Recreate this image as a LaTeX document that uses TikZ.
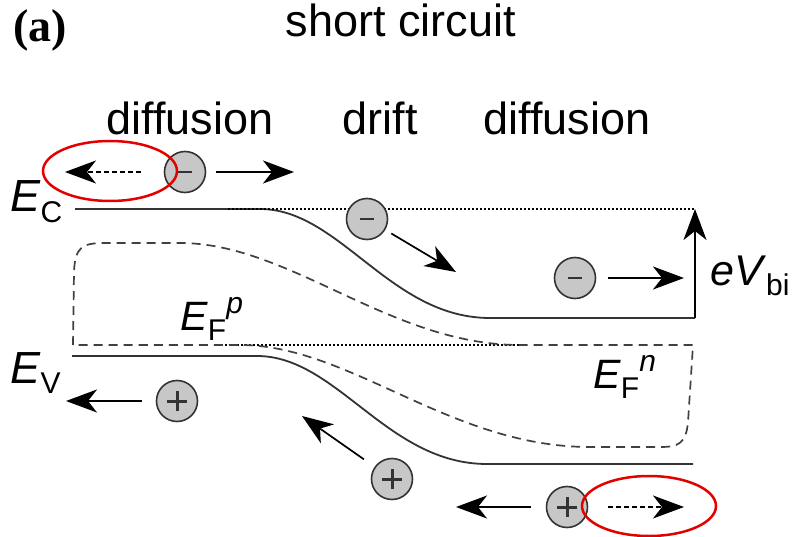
\documentclass[tikz,border=0pt]{standalone}
\usepackage{fontspec}
\setmainfont{Liberation Sans}
\newfontfamily\serifbold{Liberation Serif}
\usetikzlibrary{arrows.meta}

\newcommand{\lowtxt}[1]{\raisebox{-10pt}{\fontsize{30}{30}\selectfont #1}}
\newcommand{\hightxt}[1]{\raisebox{17pt}{\fontsize{30}{30}\selectfont\itshape #1}}

\begin{document}
\begin{tikzpicture}[
  x=1pt, y=-1pt,
  band/.style={line width=1.8pt, black!80},
  qfl/.style={line width=1.7pt, black!75, dash pattern=on 9pt off 6pt},
  refline/.style={line width=1.2pt, black, dash pattern=on 1.5pt off 2.5pt},
  carrier/.style={
    circle,
    draw=black!80,
    line width=1.6pt,
    fill=black!22,
    minimum size=41pt,
    inner sep=0pt
  },
  elec/.style={carrier, path picture={
    \draw[line width=1.8pt] ([xshift=-7pt]path picture bounding box.center)
      -- ([xshift=7pt]path picture bounding box.center);}},
  hole/.style={carrier, path picture={
    \draw[line width=3pt] ([xshift=-10pt]path picture bounding box.center)
      -- ([xshift=10pt]path picture bounding box.center)
      ([yshift=-10pt]path picture bounding box.center)
      -- ([yshift=10pt]path picture bounding box.center);}},
  carry/.style={-{Stealth[length=31pt, width=23pt, inset=9pt]}, line width=1.7pt},
  carrydash/.style={carry, dash pattern=on 5pt off 3pt},
  ring/.style={red!90!black, line width=2.5pt},
  heading/.style={font=\fontsize{45}{54}\selectfont, inner sep=0pt, anchor=base},
  lvltext/.style={font=\fontsize{45}{52}\selectfont, inner sep=0pt, anchor=base west}
]

  \useasboundingbox (0,0) rectangle (794,537);

  % Band edges, bent across the junction.
  \draw[band] (75,209) -- (260,209) .. controls (340,209) and (390,318) .. (490,318) -- (695,318);
  \draw[band] (72,356) -- (257,356) .. controls (337,356) and (387,464) .. (487,464) -- (693,464);

  % Equilibrium levels.
  \draw[refline] (228,209) -- (695,209);
  \draw[refline] (225,345) -- (525,345);

  % Quasi-Fermi levels.
  \draw[qfl] (73,345) -- (74,272) .. controls (75,247) and (82,243) .. (105,243) -- (180,243)
    .. controls (290,243) and (390,345) .. (520,345) -- (693,345) -- (688,422)
    .. controls (686,444) and (678,447) .. (660,447) -- (590,447)
    .. controls (450,447) and (350,345) .. (240,345) -- cycle;

  % Built-in voltage.
  \coordinate (vbot) at (695,318);
  \coordinate (vtop) at (695,209);
  \draw[carry] (vbot) -- (vtop);

  % Electrons.
  \node[elec] (eleft)  at (185,172) {};
  \node[elec] (emid)   at (367,219) {};
  \node[elec] (eright) at (575,278) {};
  \coordinate (eleftback) at (65,172);
  \coordinate (eleftfwd)  at (294,172);
  \coordinate (emidfwd)   at (456,272);
  \coordinate (erightfwd) at (684,278);
  \draw[carrydash, shorten <=23pt] (eleft) -- (eleftback);
  \draw[carry, shorten <=10pt] (eleft) -- (eleftfwd);
  \draw[carry, shorten <=7pt] (emid) -- (emidfwd);
  \draw[carry, shorten <=12pt] (eright) -- (erightfwd);

  % Holes.
  \node[hole] (hleft)  at (177,401) {};
  \node[hole] (hmid)   at (392,479) {};
  \node[hole] (hright) at (567,507) {};
  \coordinate (hleftfwd)   at (66,401);
  \coordinate (hmidfwd)    at (302,416);
  \coordinate (hrightfwd)  at (456,507);
  \coordinate (hrightback) at (684,507);
  \draw[carry, shorten <=14pt] (hleft) -- (hleftfwd);
  \draw[carry, shorten <=13pt] (hmid) -- (hmidfwd);
  \draw[carry, shorten <=15pt] (hright) -- (hrightfwd);
  \draw[carrydash, shorten <=20pt] (hright) -- (hrightback);

  % Back-diffusion losses.
  \draw[ring] (110,171) ellipse [x radius=67, y radius=30];
  \draw[ring] (649,506) ellipse [x radius=67, y radius=30];

  % Titles.
  \node[inner sep=0pt, anchor=base west, font=\serifbold\bfseries\fontsize{46}{54}\selectfont]
    (tag) at (13,42) {(a)};
  \node[heading] (title) at (401,37) {short circuit};
  \node[heading] (diffp) at (190,135) {diffusion};
  \node[heading] (drift) at (380,135) {drift};
  \node[heading] (diffn) at (567,135) {diffusion};

  % Level names.
  \node[lvltext] (ec)  at (10,212) {\textit{E}\lowtxt{C}};
  \node[lvltext] (ev)  at (10,383) {\textit{E}\lowtxt{V}};
  \node[lvltext, font=\fontsize{41}{48}\selectfont] (efp) at (180,330) {\textit{E}\lowtxt{F}\hightxt{p}};
  \node[lvltext, font=\fontsize{41}{48}\selectfont] (efn) at (593,388) {\textit{E}\lowtxt{F}\hightxt{n}};
  \node[lvltext, font=\fontsize{43}{50}\selectfont] (vbi) at (710,285) {\textit{eV}\lowtxt{bi}};

\end{tikzpicture}
\end{document}
